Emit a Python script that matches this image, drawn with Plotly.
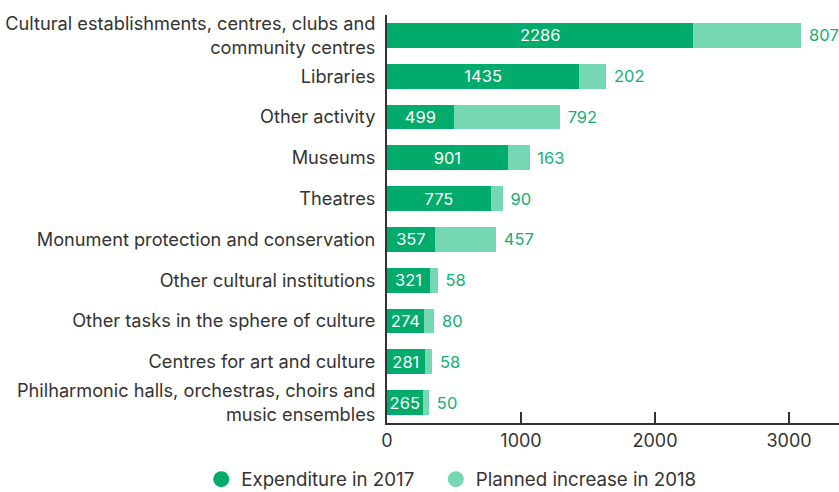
import plotly.graph_objects as go

categories = [
    "Cultural establishments, centres, clubs and<br>community centres",
    "Libraries",
    "Other activity",
    "Museums",
    "Theatres",
    "Monument protection and conservation",
    "Other cultural institutions",
    "Other tasks in the sphere of culture",
    "Centres for art and culture",
    "Philharmonic halls, orchestras, choirs and<br>music ensembles",
]
expenditure_2017 = [2286, 1435, 499, 901, 775, 357, 321, 274, 281, 265]
planned_increase_2018 = [807, 202, 792, 163, 90, 457, 58, 80, 58, 50]
x_ticks = [0, 1000, 2000, 3000]

DARK = "#00AB6B"
LIGHT = "#76D8B2"
LABEL_GREEN = "#17AE74"
INK = "#333333"
FONT = "Inter"

fig = go.Figure()
fig.add_trace(go.Bar(
    y=categories, x=expenditure_2017, orientation="h",
    marker=dict(color=DARK, line=dict(width=0)),
    text=[str(v) for v in expenditure_2017],
    textposition="inside", insidetextanchor="middle",
    textfont=dict(color="white", size=16.5, family=FONT),
    constraintext="none", showlegend=False, width=0.61,
))
fig.add_trace(go.Bar(
    y=categories, x=planned_increase_2018, orientation="h",
    marker=dict(color=LIGHT, line=dict(width=0)),
    text=["\u00a0" + str(v) for v in planned_increase_2018],
    textposition="outside",
    textfont=dict(color=LABEL_GREEN, size=16.5, family=FONT),
    constraintext="none", cliponaxis=False, showlegend=False, width=0.61,
))
# circular legend markers, one legend box each
fig.add_trace(go.Scatter(x=[None], y=[None], mode="markers", name="Expenditure in 2017",
                         marker=dict(symbol="circle", size=16, color=DARK), legend="legend"))
fig.add_trace(go.Scatter(x=[None], y=[None], mode="markers", name="Planned increase in 2018",
                         marker=dict(symbol="circle", size=16, color=LIGHT), legend="legend2"))

legend_style = dict(
    orientation="h", xanchor="left", y=-0.092, yanchor="top",
    bgcolor="rgba(0,0,0,0)", font=dict(size=18.7, color=INK), itemwidth=30,
)

fig.update_layout(
    width=839, height=492,
    barmode="stack",
    plot_bgcolor="white", paper_bgcolor="white",
    margin=dict(l=387, r=0, t=15, b=69, autoexpand=False),
    font=dict(family=FONT, color=INK, size=18),
    uniformtext=dict(minsize=16.5, mode="show"),
    xaxis=dict(
        range=[0, 3373], tickvals=x_ticks, ticktext=[str(t) for t in x_ticks],
        ticks="inside", ticklen=11, tickwidth=2, tickcolor=INK,
        showline=True, linecolor=INK, linewidth=2, showgrid=False, zeroline=False,
        tickfont=dict(size=18, color=INK),
    ),
    yaxis=dict(
        range=[9.5, -0.5], showline=True, linecolor=INK, linewidth=2,
        showgrid=False, zeroline=False, ticks="", ticklabelstandoff=6,
        tickfont=dict(size=18.2, color=INK),
    ),
    legend=dict(x=-0.411, **legend_style),
    legend2=dict(x=0.108, **legend_style),
)

fig.write_html("out.html")
